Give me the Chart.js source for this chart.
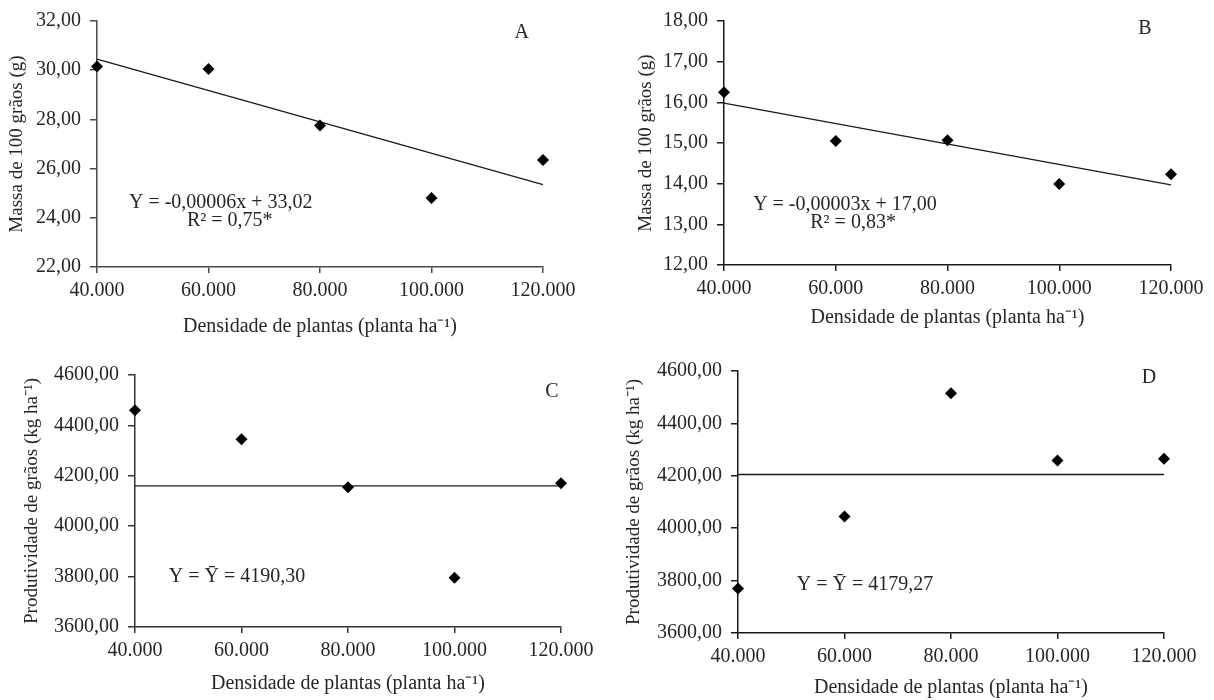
<!DOCTYPE html>
<html>
<head>
<meta charset="utf-8">
<script src="https://cdn.jsdelivr.net/npm/chart.js@4"></script>
<style>
    body { margin: 0; background: #fff; }
    #page { position: relative; width: 1214px; height: 700px; overflow: hidden; }
    canvas { position: absolute; }
</style>
</head>
<body>
<div id="page">
    <canvas id="chart-a" width="607" height="350" style="left:0;top:0"></canvas>
    <canvas id="chart-b" width="607" height="350" style="left:607px;top:0"></canvas>
    <canvas id="chart-c" width="607" height="350" style="left:0;top:350px"></canvas>
    <canvas id="chart-d" width="607" height="350" style="left:607px;top:350px"></canvas>
</div>
<script>
// dados
const densidades = [40000, 60000, 80000, 100000, 120000];
const xTickLabels = ['40.000', '60.000', '80.000', '100.000', '120.000'];

const massaA = [30.15, 30.05, 27.75, 24.80, 26.35];
const massaB = [16.25, 15.05, 15.07, 13.99, 14.23];
const produtividadeC = [4460, 4345, 4155, 3795, 4170];
const produtividadeD = [3770, 4045, 4515, 4258, 4265];

// retas ajustadas (extremos)
const trendX = [40000, 120000];
const trendA = [30.45, 25.35];
const trendB = [15.98, 13.97];
const trendC = [4160, 4160];
const trendD = [4205, 4205];

const yTitleMassa = 'Massa de 100 grãos (g)';
const yTitleProd = 'Produtividade de grãos (kg ha⁻¹)';
const xTitle = 'Densidade de plantas (planta ha⁻¹)';

const serif = '"Liberation Serif", "Times New Roman", serif';
const textColor = '#262626';

const toPoints = (xs, ys) => xs.map((x, i) => ({ x: x, y: ys[i] }));
const fmtY = v => v.toFixed(2).replace('.', ',');

// textos sobre o gráfico, posicionados em coordenadas dos dados
const notesPlugin = {
    id: 'notes',
    afterDatasetsDraw(chart, args, opts) {
        const { ctx, scales } = chart;
        ctx.save();
        ctx.fillStyle = textColor;
        ctx.textAlign = 'center';
        ctx.textBaseline = 'middle';
        (opts.items || []).forEach(n => {
            ctx.font = `${n.size}px ${serif}`;
            ctx.fillText(n.text, scales.x.getPixelForValue(n.x), scales.y.getPixelForValue(n.y));
        });
        ctx.restore();
    }
};

const makeChart = (canvasId, cfg) => {
    const canvas = document.getElementById(canvasId);
    const w = canvas.width, h = canvas.height;
    const axisColor = cfg.axisColor;
    return new Chart(canvas.getContext('2d'), {
        type: 'scatter',
        data: {
            datasets: [{
                data: toPoints(densidades, cfg.values),
                pointStyle: 'rectRot',
                pointRadius: 6,
                pointHoverRadius: 6,
                backgroundColor: '#000',
                borderColor: '#000',
                borderWidth: 0,
                clip: false
            }, {
                data: toPoints(trendX, cfg.trend),
                showLine: true,
                pointRadius: 0,
                borderColor: '#1a1a1a',
                borderWidth: 1.3,
                clip: false
            }]
        },
        options: {
            responsive: false,
            animation: false,
            layout: {
                padding: { left: 0, top: cfg.area.top, right: w - cfg.area.right, bottom: 0 }
            },
            plugins: {
                legend: { display: false },
                tooltip: { enabled: false },
                notes: { items: cfg.notes }
            },
            scales: {
                x: {
                    type: 'linear',
                    min: 40000,
                    max: 120000,
                    afterFit: s => { s.height = h - cfg.area.bottom; },
                    afterBuildTicks: s => { s.ticks = densidades.map(v => ({ value: v })); },
                    ticks: {
                        color: textColor,
                        font: { family: serif, size: 20 },
                        padding: 6,
                        maxRotation: 0,
                        callback: v => xTickLabels[densidades.indexOf(v)]
                    },
                    grid: { drawOnChartArea: false, tickLength: 6, color: axisColor, lineWidth: 1.5 },
                    border: { color: axisColor, width: 1.5 },
                    title: {
                        display: true,
                        text: xTitle,
                        color: textColor,
                        font: { family: serif, size: 20 },
                        padding: { top: 0, bottom: cfg.xTitlePad }
                    }
                },
                y: {
                    min: cfg.yMin,
                    max: cfg.yMax,
                    afterFit: s => { s.width = cfg.area.left; },
                    ticks: {
                        stepSize: cfg.yStep,
                        color: textColor,
                        font: { family: serif, size: 20 },
                        padding: 9,
                        callback: fmtY
                    },
                    grid: { drawOnChartArea: false, tickLength: 7, color: axisColor, lineWidth: 1.5 },
                    border: { color: axisColor, width: 1.5 },
                    title: {
                        display: true,
                        text: cfg.yTitle,
                        color: textColor,
                        font: { family: serif, size: 19 },
                        padding: { top: cfg.yTitlePad, bottom: 0 }
                    }
                }
            }
        },
        plugins: [notesPlugin]
    });
};

makeChart('chart-a', {
    values: massaA, trend: trendA,
    yMin: 22, yMax: 32, yStep: 2, yTitle: yTitleMassa,
    area: { left: 97, top: 17, right: 543, bottom: 267 },
    xTitlePad: 11, yTitlePad: 6, axisColor: '#4a4a4a',
    notes: [
        { text: 'A', x: 116200, y: 31.52, size: 20 },
        { text: 'Y = -0,00006x + 33,02', x: 62200, y: 24.6, size: 20 },
        { text: 'R² = 0,75*', x: 63800, y: 23.88, size: 20 }
    ]
});

makeChart('chart-b', {
    values: massaB, trend: trendB,
    yMin: 12, yMax: 18, yStep: 1, yTitle: yTitleMassa,
    area: { left: 117, top: 15, right: 564, bottom: 265 },
    xTitlePad: 20, yTitlePad: 28, axisColor: '#1a1a1a',
    notes: [
        { text: 'B', x: 115350, y: 17.81, size: 20 },
        { text: 'Y = -0,00003x + 17,00', x: 61650, y: 13.49, size: 20 },
        { text: 'R² = 0,83*', x: 63100, y: 13.03, size: 20 }
    ]
});

makeChart('chart-c', {
    values: produtividadeC, trend: trendC,
    yMin: 3600, yMax: 4600, yStep: 200, yTitle: yTitleProd,
    area: { left: 135, top: 25, right: 561, bottom: 277 },
    xTitlePad: 4, yTitlePad: 21, axisColor: '#333',
    notes: [
        { text: 'C', x: 118300, y: 4533, size: 20 },
        { text: 'Y = Ȳ = 4190,30', x: 59150, y: 3798, size: 20 }
    ]
});

makeChart('chart-d', {
    values: produtividadeD, trend: trendD,
    yMin: 3600, yMax: 4600, yStep: 200, yTitle: yTitleProd,
    area: { left: 131, top: 21, right: 557, bottom: 283 },
    xTitlePad: 0, yTitlePad: 16, axisColor: '#1a1a1a',
    notes: [
        { text: 'D', x: 117200, y: 4573, size: 20 },
        { text: 'Y = Ȳ = 4179,27', x: 63850, y: 3783, size: 20 }
    ]
});
</script>
</body>
</html>
